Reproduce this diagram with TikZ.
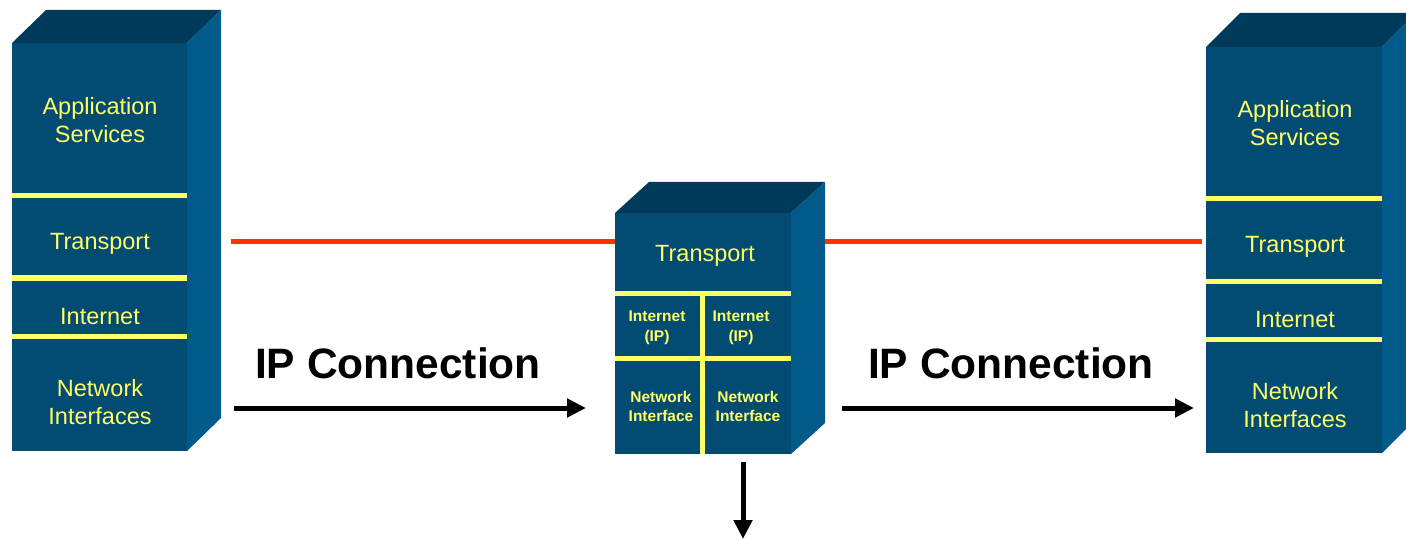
\documentclass[tikz,border=0pt]{standalone}
\usepackage{fontspec}
\setmainfont{Liberation Sans}
\usetikzlibrary{arrows.meta}
\definecolor{frontc}{HTML}{024B73}
\definecolor{topc}{HTML}{003A5A}
\definecolor{sidec}{HTML}{005A8A}
\definecolor{ylw}{HTML}{FFFF66}
\definecolor{redl}{HTML}{FF3300}
\tikzset{
  face/.style={fill=frontc, inner sep=0pt, outer sep=0pt},
  topface/.style={fill=topc},
  sideface/.style={fill=sidec},
  ybar/.style={draw=ylw, line width=5pt},
  lbl/.style={text=ylw, align=center, font=\fontsize{23.5}{28}\selectfont, inner sep=0pt},
  slbl/.style={text=ylw, align=center, font=\bfseries\fontsize{15.5}{20}\selectfont, inner sep=0pt},
  iplbl/.style={font=\bfseries\fontsize{42.5}{48}\selectfont, inner sep=0pt},
  redline/.style={draw=redl, line width=5pt},
  blkarrow/.style={draw=black, line width=5pt, -{Triangle[length=19pt,width=18pt]}},
}
\newcommand\mkcube[3]{%
  \fill[topface] (#1.north west) -- ++(#2,-#3) -- ([xshift=#2 pt,yshift=#3 pt]#1.north east) -- (#1.north east) -- cycle;
  \fill[sideface] (#1.north east) -- ([xshift=#2 pt,yshift=#3 pt]#1.north east) -- ([xshift=#2 pt,yshift=#3 pt]#1.south east) -- (#1.south east) -- cycle;
}
\begin{document}
\begin{tikzpicture}[x=1pt,y=-1pt]
\useasboundingbox (0,0) rectangle (1406,540);

% left stack
\node[face, minimum width=175pt, minimum height=408pt] (L) at (99.5,247) {};
\mkcube{L}{34}{33}
\draw[ybar] (12,196) -- (187,196);
\draw[ybar] (12,278) -- (187,278);
\draw[ybar] (12,336) -- (187,336);
\node[lbl] (Lapp) at (100,120) {Application\\Services};
\node[lbl] (Ltr) at (100,244) {Transport};
\node[lbl] (Lin) at (100,317) {Internet};
\node[lbl] (Lni) at (100,402) {Network\\Interfaces};

% middle router
\node[face, minimum width=176pt, minimum height=241pt] (M) at (703,333.5) {};
\mkcube{M}{34}{31}
\draw[ybar] (615,293) -- (791,293);
\draw[ybar] (615,358) -- (791,358);
\draw[ybar] (702,293) -- (702,454);
\node[lbl] (Mtr) at (705,256) {Transport};
\node[slbl] (Mi1) at (657,328) {Internet\\(IP)};
\node[slbl] (Mi2) at (741,328) {Internet\\(IP)};
\node[slbl, font=\bfseries\fontsize{15.5}{19}\selectfont] (Mn1) at (661,406) {Network\\Interface};
\node[slbl, font=\bfseries\fontsize{15.5}{19}\selectfont] (Mn2) at (748,406) {Network\\Interface};

% right stack
\node[face, minimum width=176pt, minimum height=406pt] (R) at (1294,250) {};
\mkcube{R}{34}{34}
\draw[ybar] (1206,199) -- (1382,199);
\draw[ybar] (1206,281) -- (1382,281);
\draw[ybar] (1206,339) -- (1382,339);
\node[lbl] (Rapp) at (1295,123) {Application\\Services};
\node[lbl] (Rtr) at (1295,247) {Transport};
\node[lbl] (Rin) at (1295,320) {Internet};
\node[lbl] (Rni) at (1295,405) {Network\\Interfaces};

% red transport lines
\coordinate (r1) at (231,242);
\coordinate (r2) at (825,242);
\coordinate (r3) at (1202,242);
\draw[redline] (r1) -- (M.west |- r1);
\draw[redline] (r2) -- (r3);

% IP connection arrows
\node[iplbl] (ip1) at (398,363) {IP Connection};
\node[iplbl] (ip2) at (1011,363) {IP Connection};
\coordinate (a1s) at (234,408);
\coordinate (a1e) at (586,408);
\coordinate (a2s) at (842,408);
\coordinate (a2e) at (1194,408);
\draw[blkarrow] (a1s) -- (a1e);
\draw[blkarrow] (a2s) -- (a2e);

% downward arrow
\coordinate (d1) at (743,462);
\coordinate (d2) at (743,539);
\draw[blkarrow] (d1) -- (d2);
\end{tikzpicture}
\end{document}
